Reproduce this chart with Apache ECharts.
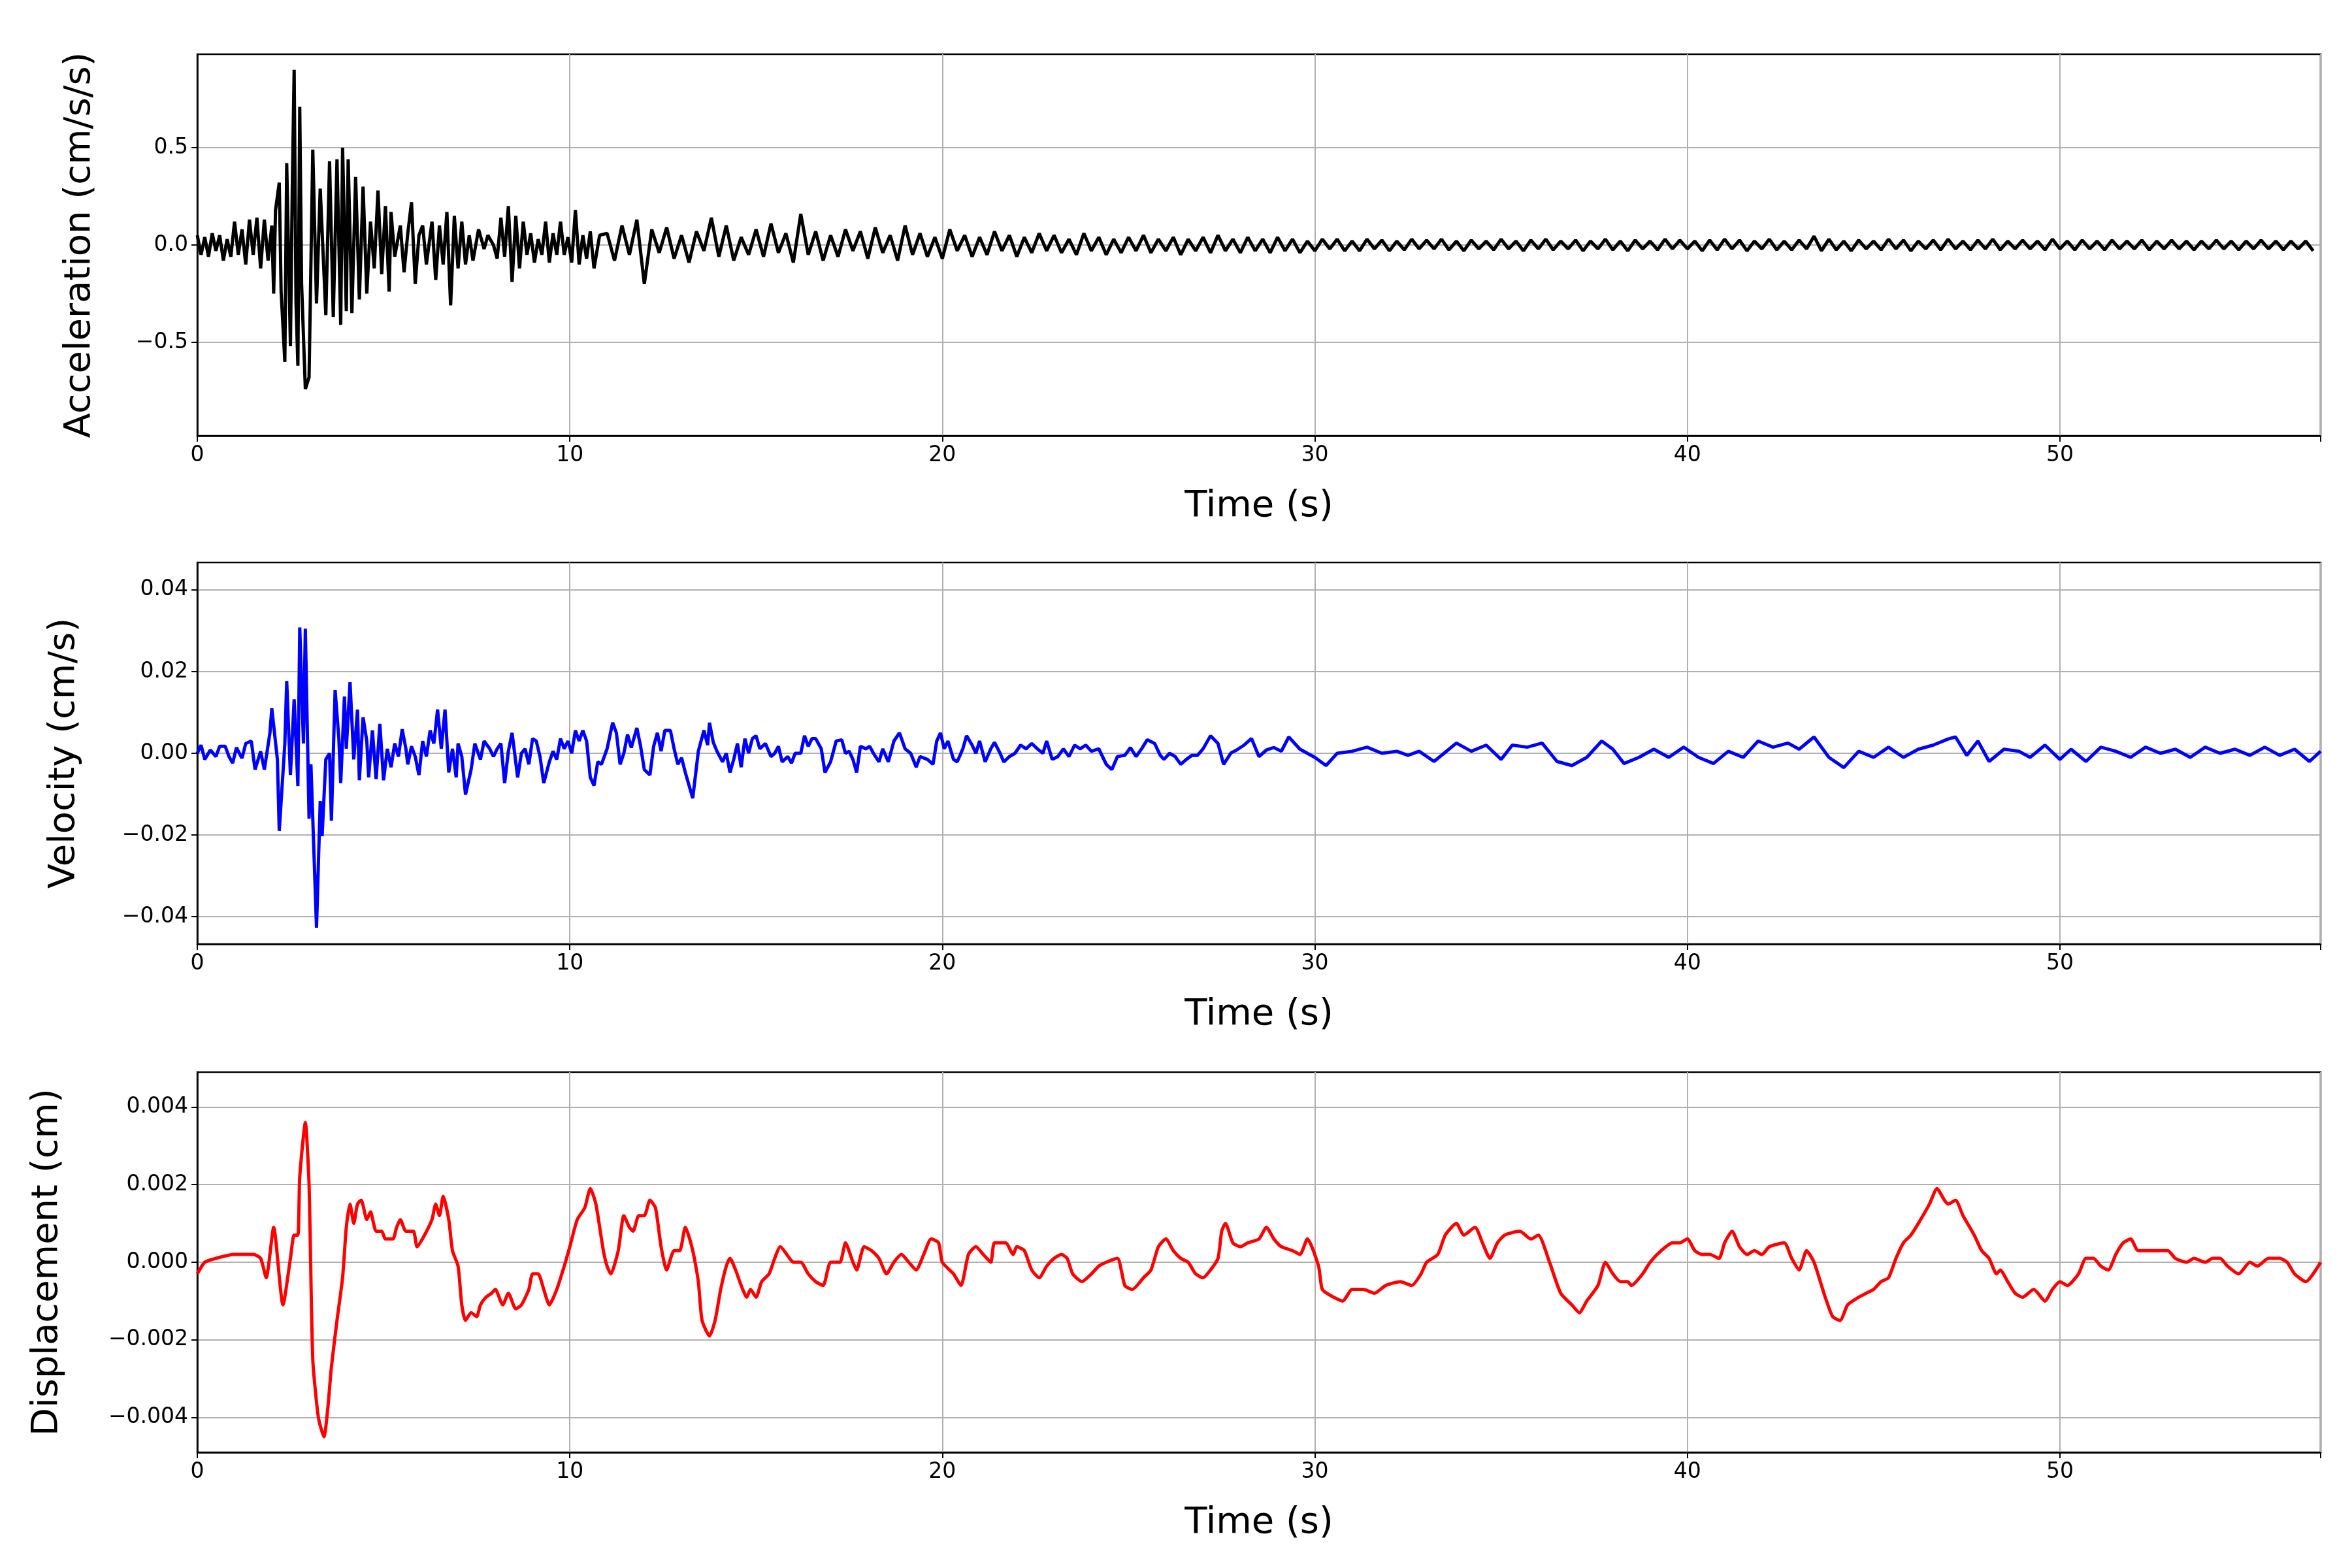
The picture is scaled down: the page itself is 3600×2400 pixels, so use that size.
<!DOCTYPE html>
<html>
<head>
<meta charset="utf-8">
<script src="https://cdn.jsdelivr.net/npm/echarts@6/dist/echarts.min.js"></script>
<style>
html, body { margin: 0; padding: 0; background: #fff; }
#main { width: 3600px; height: 2400px; }
</style>
</head>
<body>
<div id="main"></div>
<script>
// acceleration, early part read point by point (time, value)
var accTime = [0, 0.1, 0.2, 0.3, 0.4, 0.5, 0.6, 0.7, 0.8, 0.9, 1.0, 1.1, 1.2, 1.3, 1.4, 1.5, 1.6, 1.7, 1.8, 1.9,
    2.0, 2.05, 2.1, 2.2, 2.25, 2.35, 2.4, 2.5, 2.55, 2.6, 2.65, 2.7, 2.75, 2.8, 2.9, 3.0, 3.1, 3.2, 3.3, 3.45,
    3.55, 3.65, 3.75, 3.85, 3.9, 4.0, 4.05, 4.15, 4.25, 4.35, 4.45, 4.55, 4.65, 4.75, 4.85, 4.95, 5.05, 5.15, 5.2, 5.3,
    5.45, 5.55, 5.65, 5.75, 5.85, 5.95, 6.05, 6.15, 6.3, 6.4, 6.5, 6.6, 6.7, 6.8, 6.9, 7.0, 7.1, 7.2, 7.3, 7.4,
    7.55, 7.7, 7.8, 7.95, 8.05, 8.15, 8.25, 8.35, 8.45, 8.55, 8.65, 8.75, 8.85, 8.95, 9.05, 9.15, 9.25, 9.35, 9.45, 9.55,
    9.65, 9.75, 9.85, 9.95, 10.05, 10.15, 10.25, 10.35, 10.45, 10.55, 10.65, 10.8];
var accHead = [0.05, -0.05, 0.04, -0.06, 0.06, -0.03, 0.05, -0.08, 0.03, -0.06, 0.12, -0.05, 0.08, -0.1, 0.13, -0.05, 0.14, -0.12, 0.13, -0.08,
    0.1, -0.25, 0.18, 0.32, -0.24, -0.6, 0.42, -0.52, 0.3, 0.9, -0.3, -0.62, 0.71, -0.2, -0.74, -0.68, 0.49, -0.3, 0.29, -0.36,
    0.43, -0.37, 0.44, -0.41, 0.5, -0.34, 0.44, -0.35, 0.35, -0.28, 0.3, -0.25, 0.12, -0.12, 0.28, -0.15, 0.2, -0.24, 0.17, -0.06,
    0.1, -0.14, 0.06, 0.22, -0.2, 0.05, 0.1, -0.1, 0.12, -0.18, 0.1, -0.1, 0.17, -0.31, 0.15, -0.12, 0.12, -0.1, 0.05, -0.08,
    0.08, -0.02, 0.05, 0, -0.07, 0.14, -0.06, 0.2, -0.19, 0.15, -0.12, 0.12, -0.05, 0.06, -0.09, 0.03, -0.05, 0.12, -0.09, 0.06,
    -0.05, 0.12, -0.05, 0.04, -0.09, 0.18, -0.1, 0.05, -0.07, 0.07, -0.12, 0.05];
// acceleration, rest of the record every 0.2 s from 11.0 s
var accTailStart = 11.0;
var accTailStep = 0.2;
var accTail = [0.06, -0.08, 0.1, -0.05, 0.13, -0.2, 0.08, -0.04, 0.09, -0.07,
    0.05, -0.09, 0.07, -0.03, 0.14, -0.06, 0.1, -0.08, 0.04, -0.05,
    0.08, -0.06, 0.11, -0.04, 0.06, -0.09, 0.16, -0.05, 0.07, -0.08,
    0.05, -0.06, 0.08, -0.03, 0.07, -0.07, 0.09, -0.04, 0.05, -0.08,
    0.1, -0.05, 0.06, -0.06, 0.04, -0.07, 0.08, -0.03, 0.05, -0.06,
    0.04, -0.05, 0.07, -0.03, 0.05, -0.06, 0.04, -0.04, 0.06, -0.03,
    0.05, -0.04, 0.03, -0.05, 0.06, -0.03, 0.04, -0.05, 0.03, -0.04,
    0.04, -0.03, 0.05, -0.04, 0.03, -0.03, 0.04, -0.05, 0.03, -0.03,
    0.04, -0.04, 0.05, -0.03, 0.03, -0.04, 0.04, -0.03, 0.03, -0.04,
    0.04, -0.03, 0.03, -0.04, 0.02, -0.03, 0.03, -0.02, 0.03, -0.03,
    0.02, -0.03, 0.03, -0.02, 0.025, -0.03, 0.02, -0.025, 0.03, -0.02,
    0.025, -0.02, 0.03, -0.025, 0.02, -0.03, 0.025, -0.02, 0.02, -0.025,
    0.03, -0.02, 0.02, -0.03, 0.025, -0.02, 0.03, -0.025, 0.02, -0.02,
    0.025, -0.03, 0.02, -0.02, 0.03, -0.025, 0.02, -0.03, 0.025, -0.02,
    0.02, -0.025, 0.03, -0.02, 0.025, -0.02, 0.02, -0.03, 0.025, -0.025,
    0.03, -0.02, 0.025, -0.03, 0.02, -0.02, 0.03, -0.025, 0.02, -0.025,
    0.025, -0.02, 0.045, -0.03, 0.03, -0.025, 0.02, -0.03, 0.025, -0.02,
    0.02, -0.025, 0.03, -0.02, 0.025, -0.03, 0.02, -0.02, 0.025, -0.025,
    0.03, -0.02, 0.02, -0.025, 0.025, -0.02, 0.03, -0.025, 0.02, -0.02,
    0.025, -0.02, 0.02, -0.025, 0.03, -0.02, 0.02, -0.025, 0.025, -0.02,
    0.02, -0.025, 0.025, -0.02, 0.02, -0.02, 0.025, -0.025, 0.02, -0.02,
    0.025, -0.02, 0.02, -0.025, 0.02, -0.02, 0.025, -0.02, 0.02, -0.025,
    0.02, -0.02, 0.025, -0.02, 0.02, -0.025, 0.02, -0.02, 0.02, -0.03];

var velTime = [0, 0.1, 0.2, 0.35, 0.5, 0.6, 0.75, 0.85, 0.95, 1.05, 1.2, 1.3, 1.45, 1.55, 1.7, 1.8, 1.95, 2.0, 2.15, 2.2,
    2.35, 2.4, 2.5, 2.6, 2.7, 2.75, 2.85, 2.9, 3.0, 3.05, 3.2, 3.3, 3.35, 3.45, 3.55, 3.6, 3.7, 3.8, 3.85, 3.95,
    4.0, 4.1, 4.2, 4.3, 4.35, 4.45, 4.55, 4.6, 4.7, 4.8, 4.9, 5.0, 5.1, 5.2, 5.3, 5.4, 5.5, 5.6, 5.65, 5.75,
    5.85, 5.95, 6.05, 6.15, 6.25, 6.35, 6.45, 6.55, 6.65, 6.75, 6.85, 6.95, 7.0, 7.1, 7.2, 7.35, 7.45, 7.6, 7.7, 7.85,
    7.95, 8.05, 8.15, 8.25, 8.35, 8.45, 8.6, 8.7, 8.8, 8.9, 9.0, 9.1, 9.2, 9.3, 9.45, 9.55, 9.65, 9.75, 9.85, 9.95,
    10.05, 10.15, 10.25, 10.35, 10.45, 10.55, 10.65, 10.75, 10.85, 11.0, 11.15, 11.25, 11.35, 11.45, 11.55, 11.65, 11.8, 11.9, 12.0, 12.15,
    12.25, 12.35, 12.45, 12.55, 12.7, 12.8, 12.9, 13.0, 13.1, 13.3, 13.45, 13.6, 13.7, 13.75, 13.85, 13.95, 14.1, 14.2, 14.3, 14.4,
    14.5, 14.6, 14.7, 14.8, 14.9, 15.0, 15.1, 15.25, 15.4, 15.5, 15.6, 15.7, 15.85, 15.95, 16.05, 16.2, 16.3, 16.4, 16.5, 16.6,
    16.75, 16.85, 17.0, 17.15, 17.3, 17.4, 17.5, 17.6, 17.7, 17.8, 17.95, 18.05, 18.15, 18.3, 18.4, 18.55, 18.7, 18.85, 19.0, 19.15,
    19.3, 19.4, 19.6, 19.75, 19.85, 19.95, 20.05, 20.15, 20.3, 20.4, 20.55, 20.65, 20.8, 20.9, 21.0, 21.15, 21.3, 21.4, 21.55, 21.65,
    21.8, 21.95, 22.1, 22.25, 22.4, 22.55, 22.7, 22.8, 22.95, 23.1, 23.25, 23.4, 23.55, 23.7, 23.85, 24.0, 24.2, 24.4, 24.55, 24.7,
    24.9, 25.05, 25.2, 25.35, 25.5, 25.7, 25.85, 25.95, 26.1, 26.25, 26.4, 26.55, 26.7, 26.85, 27.0, 27.2, 27.4, 27.55, 27.75, 27.9,
    28.1, 28.3, 28.5, 28.7, 28.9, 29.1, 29.3, 29.6, 30.0, 30.3, 30.6, 31.0, 31.4, 31.8, 32.2, 32.5, 32.8, 33.2, 33.6, 33.8,
    34.2, 34.6, 35.0, 35.3, 35.7, 36.1, 36.5, 36.9, 37.3, 37.7, 38.0, 38.3, 38.7, 39.1, 39.5, 39.9, 40.3, 40.7, 41.1, 41.5,
    41.9, 42.3, 42.7, 43.0, 43.4, 43.8, 44.2, 44.6, 45.0, 45.4, 45.8, 46.2, 46.6, 47.0, 47.2, 47.5, 47.8, 48.1, 48.5, 48.9,
    49.2, 49.6, 50.0, 50.3, 50.7, 51.1, 51.5, 51.9, 52.3, 52.7, 53.1, 53.5, 53.9, 54.3, 54.7, 55.1, 55.5, 55.9, 56.3, 56.7, 57.0];
var velValues = [0, 0.002, -0.0015, 0.0008, -0.0008, 0.0017, 0.0017, -0.0008, -0.0024, 0.0014, -0.0012, 0.0024, 0.003, -0.004, 0.0005, -0.004, 0.005, 0.011, -0.0015, -0.019,
    0.0024, 0.0177, -0.0053, 0.0132, -0.008, 0.0308, 0.0024, 0.0305, -0.016, -0.0027, -0.0427, -0.0117, -0.0203, -0.0015, 0, -0.0165, 0.0155, 0.0036, -0.0073, 0.0139,
    0.0011, 0.0174, -0.0015, 0.0107, -0.0066, 0.0088, 0.003, -0.0059, 0.0056, -0.0063, 0.0072, -0.0066, 0.0011, -0.0034, 0.0024, -0.0008, 0.0059, 0.0011, -0.0027, 0.0017,
    -0.0008, -0.0053, 0.003, -0.0008, 0.0056, 0.0024, 0.0107, 0.0011, 0.0107, -0.0047, 0.0011, -0.0059, 0.0024, -0.0008, -0.0101, -0.004, 0.0024, -0.0015, 0.003, 0.0011,
    -0.0008, 0.0011, 0.0024, -0.0073, 0.0005, 0.005, -0.0059, 0, 0.0011, -0.0027, 0.0036, 0.003, -0.0008, -0.0073, -0.0021, 0.0005, -0.0015, 0.0036, 0.0011, 0.003,
    0, 0.0056, 0.003, 0.0056, 0.003, -0.0059, -0.0079, -0.0021, -0.0027, 0.0011, 0.0075, 0.005, -0.0027, 0, 0.0046, 0.0014, 0.0062, 0.0017, -0.004, -0.0053,
    0.0017, 0.005, 0.0005, 0.0056, 0.0056, 0.0011, -0.0027, -0.0011, -0.0047, -0.011, 0.0005, 0.0056, 0.002, 0.0075, 0.0027, 0.0005, -0.0021, 0, -0.0047, -0.0015,
    0.0024, -0.0034, 0.0036, 0, 0.0036, 0.0043, 0.0011, 0.0024, -0.0008, 0, 0.0017, -0.0021, -0.0008, -0.0024, 0, 0, 0.0043, 0.0017, 0.0036, 0.0036,
    0.0011, -0.0047, -0.0021, 0.003, 0.0033, 0, 0.0005, -0.0015, -0.0047, 0.0017, 0.0011, 0.0017, 0, -0.0021, 0.0011, -0.0021, 0.003, 0.005, 0.0011, 0,
    -0.0034, -0.0008, -0.0015, -0.0027, 0.003, 0.005, 0.0011, 0.003, -0.0015, -0.0021, 0.0011, 0.0043, 0.002, 0, 0.003, -0.0021, 0.0011, 0.0027, 0, -0.0021,
    -0.0008, 0, 0.002, 0.0011, 0.0024, 0.0011, 0, 0.003, -0.0015, -0.0008, 0.0011, -0.0008, 0.002, 0.0011, 0.002, 0.0005, 0.0011, -0.0027, -0.004, -0.0008,
    -0.0005, 0.0014, -0.0008, 0.0011, 0.0033, 0.0024, -0.0005, -0.0015, 0, -0.0008, -0.0027, -0.0015, -0.0005, -0.0005, 0.0011, 0.0043, 0.0024, -0.0027, 0.0001, 0.0008,
    0.002, 0.0036, -0.0008, 0.0008, 0.0014, 0.0005, 0.004, 0.001, -0.001, -0.003, 0, 0.0005, 0.0015, 0, 0.0005, -0.0005, 0.0005, -0.002, 0.001, 0.0025,
    0.0005, 0.002, -0.0015, 0.002, 0.0015, 0.0025, -0.002, -0.003, -0.001, 0.003, 0.001, -0.0025, -0.001, 0.001, -0.001, 0.0015, -0.001, -0.0025, 0.0005, -0.001,
    0.003, 0.0015, 0.0025, 0.001, 0.004, -0.001, -0.0035, 0.0005, -0.001, 0.0015, -0.001, 0.001, 0.002, 0.0035, 0.004, -0.0005, 0.003, -0.002, 0.001, 0.0005,
    -0.001, 0.002, -0.0015, 0.001, -0.002, 0.0015, 0.0005, -0.001, 0.0015, 0, 0.001, -0.001, 0.0015, 0, 0.001, -0.0005, 0.0015, -0.0005, 0.001, -0.002, 0.0005];

var dispTime = [0, 0.2, 0.5, 1.0, 1.5, 1.7, 1.85, 2.05, 2.3, 2.5, 2.6, 2.7, 2.75, 2.9, 3.0, 3.1, 3.25, 3.4, 3.5, 3.6,
    3.75, 3.9, 4.0, 4.1, 4.2, 4.3, 4.4, 4.55, 4.65, 4.8, 4.95, 5.05, 5.25, 5.35, 5.45, 5.6, 5.8, 5.9, 6.1, 6.3,
    6.4, 6.5, 6.6, 6.75, 6.85, 7.0, 7.1, 7.2, 7.35, 7.5, 7.6, 7.75, 7.9, 8.0, 8.2, 8.35, 8.55, 8.7, 8.9, 9.0,
    9.15, 9.3, 9.45, 9.65, 9.85, 10.0, 10.2, 10.4, 10.55, 10.7, 10.9, 11.0, 11.1, 11.3, 11.45, 11.6, 11.7, 11.85, 12.0, 12.15,
    12.3, 12.45, 12.6, 12.8, 12.95, 13.1, 13.3, 13.45, 13.55, 13.75, 13.9, 14.05, 14.2, 14.3, 14.45, 14.6, 14.75, 14.85, 15.0, 15.15,
    15.35, 15.5, 15.65, 15.9, 16.0, 16.2, 16.4, 16.6, 16.8, 17.0, 17.25, 17.4, 17.6, 17.7, 17.9, 18.1, 18.3, 18.5, 18.7, 18.9,
    19.1, 19.3, 19.5, 19.7, 19.9, 20.0, 20.3, 20.5, 20.7, 20.9, 21.1, 21.3, 21.4, 21.7, 21.9, 22.0, 22.2, 22.4, 22.6, 22.8,
    23.0, 23.2, 23.35, 23.5, 23.75, 24.0, 24.2, 24.4, 24.7, 24.9, 25.1, 25.4, 25.6, 25.8, 26.0, 26.2, 26.4, 26.6, 26.8, 27.0,
    27.2, 27.4, 27.5, 27.6, 27.8, 28.0, 28.2, 28.5, 28.7, 28.9, 29.1, 29.4, 29.6, 29.8, 30.1, 30.2, 30.5, 30.75, 31.0, 31.3,
    31.6, 31.9, 32.3, 32.6, 32.85, 33.0, 33.3, 33.5, 33.8, 34.0, 34.3, 34.5, 34.7, 34.9, 35.1, 35.5, 35.8, 36.0, 36.3, 36.6,
    36.9, 37.1, 37.3, 37.6, 37.8, 38.0, 38.2, 38.4, 38.5, 38.8, 39.0, 39.3, 39.6, 39.8, 40.0, 40.2, 40.4, 40.6, 40.85, 41.0,
    41.2, 41.4, 41.6, 41.8, 42.0, 42.2, 42.6, 42.8, 43.0, 43.2, 43.4, 43.7, 43.9, 44.1, 44.3, 44.6, 44.8, 45.0, 45.2, 45.4,
    45.6, 45.8, 46.0, 46.2, 46.5, 46.7, 46.9, 47.0, 47.2, 47.4, 47.7, 47.9, 48.1, 48.3, 48.4, 48.6, 48.8, 49.0, 49.3, 49.6,
    49.8, 50.0, 50.2, 50.5, 50.7, 50.9, 51.1, 51.3, 51.5, 51.7, 51.9, 52.1, 52.4, 52.7, 52.9, 53.1, 53.4, 53.6, 53.9, 54.1,
    54.3, 54.5, 54.8, 55.1, 55.3, 55.6, 55.9, 56.1, 56.3, 56.6, 57.0];
var dispValues = [-0.0003, 0, 0.0001, 0.0002, 0.0002, 0.0001, -0.0004, 0.0009, -0.0011, 0.0001, 0.0007, 0.0007, 0.0022, 0.0036, 0.002, -0.0025, -0.004, -0.0045, -0.0038, -0.0027,
    -0.0015, -0.0004, 0.0009, 0.0015, 0.001, 0.0015, 0.0016, 0.0011, 0.0013, 0.0008, 0.0008, 0.0006, 0.0006, 0.0009, 0.0011, 0.0008, 0.0008, 0.0004, 0.0007, 0.0011,
    0.0015, 0.0012, 0.0017, 0.0011, 0.0003, -0.0001, -0.0011, -0.0015, -0.0013, -0.0014, -0.0011, -0.0009, -0.0008, -0.0007, -0.0011, -0.0008, -0.0012, -0.0011, -0.0007, -0.0003,
    -0.0003, -0.0007, -0.0011, -0.0007, -0.0001, 0.0004, 0.0011, 0.0014, 0.0019, 0.0015, 0.0003, -0.0001, -0.0003, 0.0003, 0.0012, 0.0009, 0.0008, 0.0012, 0.0012, 0.0016,
    0.0014, 0.0004, -0.0002, 0.0003, 0.0003, 0.0009, 0.0003, -0.0005, -0.0015, -0.0019, -0.0015, -0.0007, -0.0001, 0.0001, -0.0002, -0.0006, -0.0009, -0.0007, -0.0009, -0.0005,
    -0.0003, 0.0001, 0.0004, 0.0001, 0, 0, -0.0003, -0.0005, -0.0006, 0, 0, 0.0005, 0, -0.0002, 0.0004, 0.0003, 0.0001, -0.0003, 0, 0.0002,
    0, -0.0002, 0.0002, 0.0006, 0.0005, 0, -0.0003, -0.0006, 0.0002, 0.0004, 0.0002, 0, 0.0005, 0.0005, 0.0002, 0.0004, 0.0003, -0.0002, -0.0004, -0.0001,
    0.0001, 0.0002, 0.0001, -0.0003, -0.0005, -0.0003, -0.0001, 0, 0.0001, -0.0006, -0.0007, -0.0004, -0.0002, 0.0004, 0.0006, 0.0003, 0.0001, 0, -0.0003, -0.0004,
    -0.0002, 0.0001, 0.0008, 0.001, 0.0005, 0.0004, 0.0005, 0.0006, 0.0009, 0.0006, 0.0004, 0.0003, 0.0002, 0.0006, -0.0001, -0.0007, -0.0009, -0.001, -0.0007, -0.0007,
    -0.0008, -0.0006, -0.0005, -0.0006, -0.0003, 0, 0.0002, 0.0007, 0.001, 0.0007, 0.0009, 0.0005, 0.0001, 0.0005, 0.0007, 0.0008, 0.0006, 0.0007, 0, -0.0008,
    -0.0011, -0.0013, -0.001, -0.0006, 0, -0.0003, -0.0005, -0.0005, -0.0006, -0.0003, 0, 0.0003, 0.0005, 0.0005, 0.0006, 0.0003, 0.0002, 0.0002, 0.0001, 0.0005,
    0.0008, 0.0004, 0.0002, 0.0003, 0.0002, 0.0004, 0.0005, 0.0001, -0.0002, 0.0003, 0, -0.0009, -0.0014, -0.0015, -0.0011, -0.0009, -0.0008, -0.0007, -0.0005, -0.0004,
    0.0001, 0.0005, 0.0007, 0.001, 0.0015, 0.0019, 0.0016, 0.0015, 0.0016, 0.0012, 0.0007, 0.0003, 0.0001, -0.0003, -0.0002, -0.0005, -0.0008, -0.0009, -0.0007, -0.001,
    -0.0007, -0.0005, -0.0006, -0.0003, 0.0001, 0.0001, -0.0001, -0.0002, 0.0002, 0.0005, 0.0006, 0.0003, 0.0003, 0.0003, 0.0003, 0.0001, 0, 0.0001, 0, 0.0001,
    0.0001, -0.0001, -0.0003, 0, -0.0001, 0.0001, 0.0001, 0, -0.0003, -0.0005, 0];

var xTicks = [0, 10, 20, 30, 40, 50];
var accTicks = [-0.5, 0, 0.5];
var velTicks = [-0.04, -0.02, 0, 0.02, 0.04];
var dispTicks = [-0.004, -0.002, 0, 0.002, 0.004];

function pairs(ts, vs) {
    return ts.map(function (t, i) { return [t, vs[i]]; });
}
var accData = pairs(accTime, accHead);
accTail.forEach(function (v, i) {
    accData.push([+(accTailStart + i * accTailStep).toFixed(2), v]);
});

var FONT = 'DejaVu Sans';
function fmt(d) {
    return function (v) { return v.toFixed(d).replace('-', '\u2212'); };
}

var grids = [
    {left: 302, right: 48, top: 83, height: 584},
    {left: 302, right: 48, top: 861, height: 584},
    {left: 302, right: 48, top: 1641, height: 582}
];
grids.forEach(function (g) {
    g.show = true; g.borderColor = '#000'; g.borderWidth = 2.5; g.backgroundColor = 'transparent';
});

function xAxis(i) {
    return {
        type: 'value', gridIndex: i, min: 0, max: 57, interval: 10,
        name: 'Time (s)', nameLocation: 'middle', nameGap: 80,
        nameTextStyle: {fontFamily: FONT, fontSize: 56, color: '#000'},
        axisLine: {show: true, onZero: false, lineStyle: {color: '#000', width: 2.5}},
        axisTick: {show: true, inside: false, length: 9, lineStyle: {color: '#000', width: 2}},
        axisLabel: {fontFamily: FONT, fontSize: 33, color: '#000', margin: 14,
            customValues: xTicks, formatter: function (v) { return String(v); }},
        splitLine: {show: true, lineStyle: {color: '#b0b0b0', width: 2}}
    };
}
function yAxis(i, name, lim, ticks, dec, gap) {
    return {
        type: 'value', gridIndex: i, min: -lim, max: lim,
        name: name, nameLocation: 'middle', nameGap: gap,
        nameTextStyle: {fontFamily: FONT, fontSize: 56, color: '#000'},
        axisLine: {show: true, lineStyle: {color: '#000', width: 2.5}},
        axisTick: {show: true, inside: false, length: 9, customValues: ticks, lineStyle: {color: '#000', width: 2}},
        axisLabel: {fontFamily: FONT, fontSize: 33, color: '#000', margin: 14,
            customValues: ticks, formatter: fmt(dec)},
        splitLine: {show: true, lineStyle: {color: '#b0b0b0', width: 2}}
    };
}

var chart = echarts.init(document.getElementById('main'), null, {renderer: 'canvas'});
chart.setOption({
    backgroundColor: '#fff',
    animation: false,
    grid: grids,
    xAxis: [xAxis(0), xAxis(1), xAxis(2)],
    yAxis: [
        yAxis(0, 'Acceleration (cm/s/s)', 0.98, accTicks, 1, 152),
        yAxis(1, 'Velocity (cm/s)', 0.0467, velTicks, 2, 176),
        yAxis(2, 'Displacement (cm)', 0.0049, dispTicks, 3, 202)
    ],
    series: [
        {type: 'line', xAxisIndex: 0, yAxisIndex: 0, data: accData, showSymbol: false,
            lineStyle: {color: '#000', width: 5}},
        {type: 'line', xAxisIndex: 1, yAxisIndex: 1, data: pairs(velTime, velValues), showSymbol: false,
            lineStyle: {color: '#0000ff', width: 5}},
        {type: 'line', xAxisIndex: 2, yAxisIndex: 2, data: pairs(dispTime, dispValues), showSymbol: false,
            smooth: 0.2, lineStyle: {color: '#ff0000', width: 5}}
    ]
});
</script>
</body>
</html>
